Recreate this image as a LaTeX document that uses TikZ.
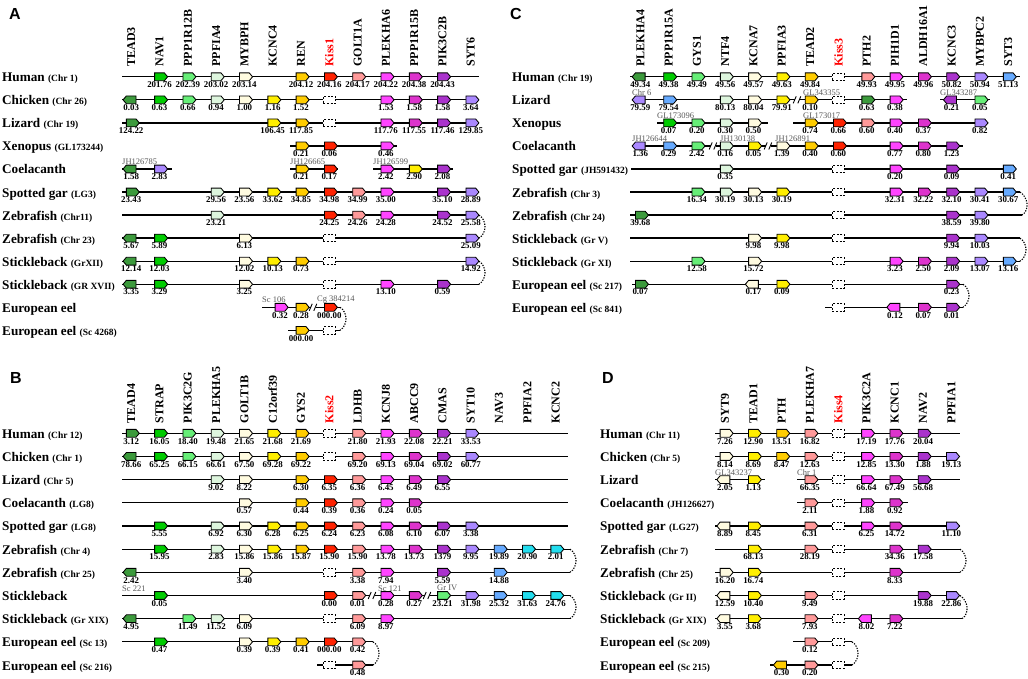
\documentclass[tikz,border=0pt]{standalone}
\usepackage{fontspec}
\setmainfont{Liberation Serif}
\newfontfamily\panelfont{Liberation Sans}
\usetikzlibrary{shapes.symbols}
\definecolor{cDG}{HTML}{3C9A3C}
\definecolor{cG}{HTML}{00CC00}
\definecolor{cLG}{HTML}{66EE77}
\definecolor{cPG}{HTML}{DDF5DD}
\definecolor{cCR}{HTML}{FFFBE0}
\definecolor{cY}{HTML}{FFEE00}
\definecolor{cGo}{HTML}{FFCC00}
\definecolor{cR}{HTML}{FF2200}
\definecolor{cSa}{HTML}{FF9999}
\definecolor{cM}{HTML}{FF44FF}
\definecolor{cDM}{HTML}{DD33CC}
\definecolor{cPu}{HTML}{AA33CC}
\definecolor{cLa}{HTML}{AA88FF}
\definecolor{cBl}{HTML}{66AAFF}
\definecolor{cCy}{HTML}{22DDEE}
\newcommand\GN[5]{%
  \node[gene,g#4,fill=#3] (\panN-#1-#2) at ({\colX+28.3*(#2)},{\rowY+\rowD*(#1)}) {};
  \node[num] (\panN-#1-#2-n) at ({\colX+28.3*(#2)},{\rowY+\rowD*(#1)+10.7}) {#5};}
\newcommand\GNX[6]{%
  \node[gene,g#5,fill=#4] (\panN-#1) at (#2,{\rowY+\rowD*(#3)}) {};
  \node[num] (\panN-#1-n) at (#2,{\rowY+\rowD*(#3)+10.7}) {#6};}
\newcommand\MS[2]{\node[miss] (\panN-#1-#2) at ({\colX+28.3*(#2)},{\rowY+\rowD*(#1)}) {};}
\newcommand\CL[4]{%
  \coordinate (\panN-#1-#2s) at (#3,{\rowY+\rowD*(#1)});
  \coordinate (\panN-#1-#2e) at (#4,{\rowY+\rowD*(#1)});
  \draw[chrom] (\panN-#1-#2s) -- (\panN-#1-#2e);}
\newcommand\BKT[2]{\draw[bkt] (\panN-#1e) .. controls +(8,5) and +(8,-5) .. (\panN-#2e);}
\newcommand\BRK[2]{%
  \fill[white] ({#1-2.5},{\rowY+\rowD*(#2)-1.5}) rectangle ({#1+2.5},{\rowY+\rowD*(#2)+1.5});
  \draw[line width=0.9pt] ({#1-3.8},{\rowY+\rowD*(#2)+3.5}) -- ({#1-0.8},{\rowY+\rowD*(#2)-3.5})
     ({#1+0.8},{\rowY+\rowD*(#2)+3.5}) -- ({#1+3.8},{\rowY+\rowD*(#2)-3.5});}
\newcommand\SCF[4]{\node[scaf] (\panN-#1) at (#2,{\rowY+\rowD*(#3)-4.2}) {#4};}
\newcommand\RLB[4]{\node[rowlab] (\panN-#1-lab) at (#2,{\rowY+\rowD*(#1)+5}) {#3 {\fontsize{9.5}{9.5}\selectfont #4}};}
\newcommand\HDR[3][]{\node[hdr,#1] (\panN-h#2) at ({\colX+28.3*(#2)},{\rowY-10}) {#3};}
\begin{document}
\begin{tikzpicture}[x=1pt,y=-1pt,
  gene/.style={signal, draw, line width=0.85pt, minimum width=13pt, minimum height=7.8pt, inner sep=0pt, signal pointer angle=100},
  gr/.style={signal to=east}, gl/.style={signal to=west},
  miss/.style={draw, dash pattern=on 2pt off 1.6pt, line width=1pt, fill=white, minimum width=12pt, minimum height=7.5pt, inner sep=0pt},
  num/.style={font=\bfseries\fontsize{8.9}{8.9}\selectfont, anchor=base, inner sep=0pt},
  chrom/.style={line width=1.3pt},
  bkt/.style={line width=1.1pt, dash pattern=on 1.3pt off 1.3pt},
  hdr/.style={font=\bfseries\fontsize{12}{12}\selectfont, rotate=90, anchor=west, inner sep=0pt},
  rowlab/.style={font=\bfseries\fontsize{13.2}{13.2}\selectfont, anchor=base west, inner sep=0pt},
  scaf/.style={font=\fontsize{8.5}{8.5}\selectfont, text=black!65, anchor=south west, inner sep=0pt},
  plet/.style={font=\panelfont\bfseries\fontsize{16}{16}\selectfont, inner sep=0pt}]
\useasboundingbox (0,0) rectangle (1028,679);
\fill[white] (0,0) rectangle (1028,679);
% ================= PANEL A =================
\def\panN{A}\def\colX{131.2}\def\rowY{76.8}\def\rowD{23.05}
\node[plet] (A-letter) at (15,13.5) {A};
\HDR{0}{TEAD3}\HDR{1}{NAV1}\HDR{2}{PPP1R12B}\HDR{3}{PPFIA4}\HDR{4}{MYBPH}\HDR{5}{KCNC4}\HDR{6}{REN}
\HDR[text=red]{7}{Kiss1}\HDR{8}{GOLT1A}\HDR{9}{PLEKHA6}\HDR{10}{PPP1R15B}\HDR{11}{PIK3C2B}\HDR{12}{SYT6}
\RLB{0}{2}{Human}{(Chr 1)}\CL{0}{a}{122}{479}
\GN{0}{1}{cG}{r}{201.76}\GN{0}{2}{cLG}{r}{202.39}\GN{0}{3}{cPG}{r}{203.02}\GN{0}{4}{cCR}{r}{203.14}
\GN{0}{6}{cGo}{r}{204.12}\GN{0}{7}{cR}{r}{204.16}\GN{0}{8}{cSa}{r}{204.17}\GN{0}{9}{cM}{r}{204.22}\GN{0}{10}{cDM}{r}{204.38}\GN{0}{11}{cPu}{r}{204.43}
\RLB{1}{2}{Chicken}{(Chr 26)}\CL{1}{a}{122}{479}
\GN{1}{0}{cDG}{l}{0.03}\GN{1}{1}{cG}{r}{0.63}\GN{1}{2}{cLG}{r}{0.66}\GN{1}{3}{cPG}{r}{0.94}\GN{1}{4}{cCR}{r}{1.00}\GN{1}{5}{cY}{r}{1.16}\GN{1}{6}{cGo}{r}{1.52}\MS{1}{7}
\GN{1}{9}{cM}{r}{1.53}\GN{1}{10}{cDM}{r}{1.58}\GN{1}{11}{cPu}{r}{1.58}\GN{1}{12}{cLa}{r}{3.64}
\RLB{2}{2}{Lizard}{(Chr 19)}\CL{2}{a}{122}{479}
\GN{2}{0}{cDG}{r}{124.22}\GN{2}{5}{cY}{r}{106.45}\GN{2}{6}{cGo}{r}{117.85}\MS{2}{7}
\GN{2}{9}{cM}{r}{117.76}\GN{2}{10}{cDM}{r}{117.55}\GN{2}{11}{cPu}{r}{117.46}\GN{2}{12}{cLa}{r}{129.85}
\RLB{3}{2}{Xenopus}{(GL173244)}\CL{3}{a}{290}{397}
\GN{3}{6}{cGo}{r}{0.21}\GN{3}{7}{cR}{r}{0.06}\GN{3}{9}{cM}{r}{0.46}
\RLB{4}{2}{Coelacanth}{}\CL{4}{a}{122}{172}\CL{4}{b}{290}{338}\CL{4}{c}{373}{453}
\SCF{4-sa}{122}{4}{JH126785}\SCF{4-sb}{290}{4}{JH126665}\SCF{4-sc}{373}{4}{JH126599}
\GN{4}{0}{cDG}{l}{1.58}\GN{4}{1}{cLa}{r}{2.83}\GN{4}{6}{cGo}{r}{0.21}\GN{4}{7}{cR}{r}{0.17}
\GN{4}{9}{cM}{r}{2.42}\GN{4}{10}{cY}{r}{2.90}\GN{4}{11}{cPu}{r}{2.08}
\RLB{5}{2}{Spotted gar}{(LG3)}\CL{5}{a}{122}{479}
\GN{5}{0}{cDG}{r}{23.43}\GN{5}{3}{cPG}{r}{29.56}\GN{5}{4}{cCR}{r}{23.56}\GN{5}{5}{cY}{r}{33.62}\GN{5}{6}{cGo}{r}{34.85}
\GN{5}{7}{cR}{r}{34.98}\GN{5}{8}{cSa}{r}{34.99}\GN{5}{9}{cM}{r}{35.00}\GN{5}{11}{cPu}{r}{35.10}\GN{5}{12}{cLa}{r}{28.89}
\RLB{6}{2}{Zebrafish}{(Chr11)}\CL{6}{a}{122}{479}
\GN{6}{3}{cPG}{r}{23.21}\GN{6}{7}{cR}{r}{24.25}\GN{6}{8}{cSa}{r}{24.26}\GN{6}{9}{cM}{r}{24.28}\GN{6}{11}{cPu}{r}{24.52}\GN{6}{12}{cLa}{r}{25.58}
\RLB{7}{2}{Zebrafish}{(Chr 23)}\CL{7}{a}{122}{479}
\GN{7}{0}{cDG}{l}{5.67}\GN{7}{1}{cG}{r}{5.89}\GN{7}{4}{cCR}{r}{6.13}\MS{7}{7}\GN{7}{12}{cLa}{r}{25.09}
\RLB{8}{2}{Stickleback}{(GrXII)}\CL{8}{a}{122}{479}
\GN{8}{0}{cDG}{l}{12.14}\GN{8}{1}{cG}{r}{12.03}\GN{8}{4}{cCR}{r}{12.02}\GN{8}{5}{cY}{r}{10.13}\GN{8}{6}{cGo}{r}{0.73}\MS{8}{7}\GN{8}{12}{cLa}{r}{14.92}
\RLB{9}{2}{Stickleback}{(GR XVII)}\CL{9}{a}{122}{479}
\GN{9}{0}{cDG}{l}{3.35}\GN{9}{1}{cG}{r}{3.29}\GN{9}{4}{cCR}{r}{3.25}\MS{9}{7}\GN{9}{9}{cM}{r}{13.10}\GN{9}{11}{cPu}{r}{0.59}
\RLB{10}{2}{European eel}{}\CL{10}{a}{262}{340}
\BRK{313}{10}
\SCF{10-sa}{262}{10}{Sc 106}\SCF{10-sb}{317}{10}{Cg 384214}
\GNX{10-m}{280}{10}{cM}{r}{0.32}\GN{10}{6}{cGo}{r}{0.28}\GN{10}{7}{cR}{r}{000.00}
\RLB{11}{2}{European eel}{(Sc 4268)}\CL{11}{a}{288}{340}
\GN{11}{6}{cGo}{r}{000.00}\MS{11}{7}
\BKT{6-a}{7-a}\BKT{8-a}{9-a}\BKT{10-a}{11-a}
% ================= PANEL C =================
\def\panN{C}\def\colX{640.3}\def\rowY{76.8}\def\rowD{23.05}
\node[plet] (C-letter) at (516,13.5) {C};
\HDR{0}{PLEKHA4}\HDR{1}{PPP1R15A}\HDR{2}{GYS1}\HDR{3}{NTF4}\HDR{4}{KCNA7}\HDR{5}{PPFIA3}\HDR{6}{TEAD2}
\HDR[text=red]{7}{Kiss3}\HDR{8}{PTH2}\HDR{9}{PIH1D1}\HDR{10}{ALDH16A1}\HDR{11}{KCNC3}\HDR{12}{MYBPC2}\HDR{13}{SYT3}
\RLB{0}{512}{Human}{(Chr 19)}\CL{0}{a}{630}{1020}
\GN{0}{0}{cDG}{l}{49.34}\GN{0}{1}{cG}{r}{49.38}\GN{0}{2}{cLG}{r}{49.49}\GN{0}{3}{cPG}{r}{49.56}\GN{0}{4}{cCR}{r}{49.57}
\GN{0}{5}{cY}{r}{49.63}\GN{0}{6}{cGo}{r}{49.84}\MS{0}{7}\GN{0}{8}{cSa}{r}{49.93}\GN{0}{9}{cM}{r}{49.95}
\GN{0}{10}{cDM}{r}{49.96}\GN{0}{11}{cPu}{r}{50.82}\GN{0}{12}{cLa}{r}{50.94}\GN{0}{13}{cBl}{r}{51.13}
\RLB{1}{512}{Lizard}{}\CL{1}{a}{632}{907}\CL{1}{b}{940}{990}
\BRK{797}{1}
\SCF{1-sa}{632}{1}{Chr 6}\SCF{1-sb}{803}{1}{GL343355}\SCF{1-sc}{940}{1}{GL343287}
\GN{1}{0}{cLa}{l}{79.59}\GN{1}{1}{cBl}{r}{79.54}\GN{1}{3}{cPG}{r}{80.13}\GN{1}{4}{cCR}{r}{80.04}\GN{1}{5}{cY}{r}{79.91}
\GN{1}{6}{cGo}{r}{0.10}\MS{1}{7}\GN{1}{8}{cDG}{r}{0.63}\GN{1}{9}{cM}{r}{0.38}\GN{1}{11}{cPu}{l}{0.21}\GN{1}{12}{cLG}{r}{0.05}
\RLB{2}{512}{Xenopus}{}\CL{2}{a}{657}{768}\CL{2}{b}{793}{988}
\SCF{2-sa}{657}{2}{GL173096}\SCF{2-sb}{803}{2}{GL173017}
\GN{2}{1}{cG}{r}{0.07}\GN{2}{2}{cLG}{r}{0.20}\GN{2}{3}{cPG}{r}{0.30}\GN{2}{4}{cCR}{r}{0.50}
\GN{2}{6}{cGo}{r}{0.74}\GN{2}{7}{cR}{r}{0.66}\GN{2}{8}{cSa}{r}{0.60}\GN{2}{9}{cM}{r}{0.40}\GN{2}{10}{cDM}{r}{0.37}\GN{2}{12}{cLa}{r}{0.82}
\RLB{3}{512}{Coelacanth}{}\CL{3}{a}{632}{963}
\BRK{713}{3}\BRK{768}{3}
\SCF{3-sa}{632}{3}{JH126644}\SCF{3-sb}{720}{3}{JH130138}\SCF{3-sc}{775}{3}{JH126891}
\GN{3}{0}{cLa}{l}{1.36}\GN{3}{1}{cBl}{r}{0.29}\GN{3}{2}{cLG}{r}{2.42}\GN{3}{3}{cPG}{r}{0.16}\GN{3}{4}{cY}{r}{0.05}
\GN{3}{5}{cCR}{r}{1.39}\GN{3}{6}{cGo}{r}{0.40}\GN{3}{7}{cR}{r}{0.60}\GN{3}{9}{cM}{r}{0.77}\GN{3}{10}{cDM}{r}{0.80}\GN{3}{11}{cPu}{r}{1.23}
\RLB{4}{512}{Spotted gar}{(JH591432)}\CL{4}{a}{631}{1015}
\GN{4}{3}{cPG}{r}{0.35}\MS{4}{7}\GN{4}{9}{cM}{r}{0.20}\GN{4}{11}{cPu}{r}{0.09}\GN{4}{13}{cBl}{r}{0.41}
\RLB{5}{512}{Zebrafish}{(Chr 3)}\CL{5}{a}{630}{1020}
\GN{5}{2}{cLG}{r}{16.34}\GN{5}{3}{cPG}{r}{30.19}\GN{5}{4}{cCR}{r}{30.13}\GN{5}{5}{cY}{r}{30.19}\MS{5}{7}
\GN{5}{9}{cM}{r}{32.31}\GN{5}{10}{cDM}{r}{32.22}\GN{5}{11}{cPu}{r}{32.10}\GN{5}{12}{cLa}{r}{30.41}\GN{5}{13}{cBl}{r}{30.67}
\RLB{6}{512}{Zebrafish}{(Chr 24)}\CL{6}{a}{630}{1022}
\GN{6}{0}{cDG}{r}{39.68}\MS{6}{7}\GN{6}{11}{cPu}{r}{38.59}\GN{6}{12}{cLa}{r}{39.80}
\RLB{7}{512}{Stickleback}{(Gr V)}\CL{7}{a}{630}{1020}
\GN{7}{4}{cCR}{r}{9.98}\GN{7}{5}{cY}{r}{9.98}\MS{7}{7}\GN{7}{11}{cPu}{r}{9.94}\GN{7}{12}{cLa}{r}{10.03}
\RLB{8}{512}{Stickleback}{(Gr XI)}\CL{8}{a}{630}{1020}
\GN{8}{2}{cLG}{r}{12.58}\GN{8}{4}{cCR}{r}{15.72}\MS{8}{7}\GN{8}{9}{cM}{r}{3.23}\GN{8}{10}{cDM}{r}{2.50}
\GN{8}{11}{cPu}{r}{2.09}\GN{8}{12}{cLa}{r}{13.07}\GN{8}{13}{cBl}{r}{13.16}
\RLB{9}{512}{European eel}{(Sc 217)}\CL{9}{a}{632}{963}
\GN{9}{0}{cDG}{r}{0.07}\GN{9}{4}{cCR}{l}{0.17}\GN{9}{5}{cY}{r}{0.09}\MS{9}{7}\GN{9}{11}{cPu}{r}{0.23}
\RLB{10}{512}{European eel}{(Sc 841)}\CL{10}{a}{825}{963}
\MS{10}{7}\GN{10}{9}{cM}{l}{0.12}\GN{10}{10}{cDM}{r}{0.07}\GN{10}{11}{cPu}{r}{0.01}
\BKT{5-a}{6-a}\BKT{7-a}{8-a}\BKT{9-a}{10-a}
% ================= PANEL B =================
\def\panN{B}\def\colX{131.2}\def\rowY{433.3}\def\rowD{23.17}
\node[plet] (B-letter) at (16,378) {B};
\HDR{0}{TEAD4}\HDR{1}{STRAP}\HDR{2}{PIK3C2G}\HDR{3}{PLEKHA5}\HDR{4}{GOLT1B}\HDR{5}{C12orf39}\HDR{6}{GYS2}
\HDR[text=red]{7}{Kiss2}\HDR{8}{LDHB}\HDR{9}{KCNJ8}\HDR{10}{ABCC9}\HDR{11}{CMAS}\HDR{12}{SYT10}\HDR{13}{NAV3}\HDR{14}{PPFIA2}\HDR{15}{KCNC2}
\RLB{0}{2}{Human}{(Chr 12)}\CL{0}{a}{122}{568}
\GN{0}{0}{cDG}{r}{3.12}\GN{0}{1}{cG}{r}{16.05}\GN{0}{2}{cLG}{r}{18.40}\GN{0}{3}{cPG}{r}{19.48}\GN{0}{4}{cCR}{r}{21.65}\GN{0}{5}{cY}{r}{21.68}\GN{0}{6}{cGo}{r}{21.69}\MS{0}{7}
\GN{0}{8}{cSa}{r}{21.80}\GN{0}{9}{cM}{r}{21.93}\GN{0}{10}{cDM}{r}{22.08}\GN{0}{11}{cPu}{r}{22.21}\GN{0}{12}{cLa}{r}{33.53}
\RLB{1}{2}{Chicken}{(Chr 1)}\CL{1}{a}{122}{568}
\GN{1}{0}{cDG}{l}{78.66}\GN{1}{1}{cG}{r}{65.25}\GN{1}{2}{cLG}{r}{66.15}\GN{1}{3}{cPG}{r}{66.61}\GN{1}{4}{cCR}{r}{67.50}\GN{1}{5}{cY}{r}{69.28}\GN{1}{6}{cGo}{r}{69.22}\MS{1}{7}
\GN{1}{8}{cSa}{r}{69.20}\GN{1}{9}{cM}{r}{69.13}\GN{1}{10}{cDM}{r}{69.04}\GN{1}{11}{cPu}{r}{69.02}\GN{1}{12}{cLa}{r}{60.77}
\RLB{2}{2}{Lizard}{(Chr 5)}\CL{2}{a}{122}{568}
\GN{2}{3}{cPG}{r}{9.02}\GN{2}{4}{cCR}{r}{8.22}\GN{2}{6}{cGo}{r}{6.30}\GN{2}{7}{cR}{r}{6.35}\GN{2}{8}{cSa}{r}{6.36}\GN{2}{9}{cM}{r}{6.45}\GN{2}{10}{cDM}{r}{6.49}\GN{2}{11}{cPu}{r}{6.55}
\RLB{3}{2}{Coelacanth}{(LG8)}\CL{3}{a}{122}{568}
\GN{3}{4}{cCR}{r}{0.57}\GN{3}{6}{cGo}{r}{0.44}\GN{3}{7}{cR}{r}{0.39}\GN{3}{8}{cSa}{r}{0.36}\GN{3}{9}{cM}{r}{0.24}\GN{3}{10}{cDM}{r}{0.05}
\RLB{4}{2}{Spotted gar}{(LG8)}\CL{4}{a}{122}{568}
\GN{4}{1}{cG}{r}{5.55}\GN{4}{3}{cPG}{r}{6.92}\GN{4}{4}{cCR}{r}{6.30}\GN{4}{5}{cY}{r}{6.28}\GN{4}{6}{cGo}{r}{6.25}\GN{4}{7}{cR}{r}{6.24}
\GN{4}{8}{cSa}{r}{6.23}\GN{4}{9}{cM}{r}{6.08}\GN{4}{10}{cDM}{r}{6.10}\GN{4}{11}{cPu}{r}{6.07}\GN{4}{12}{cLa}{r}{3.38}
\RLB{5}{2}{Zebrafish}{(Chr 4)}\CL{5}{a}{122}{570}
\GN{5}{1}{cG}{r}{15.95}\GN{5}{3}{cPG}{r}{2.83}\GN{5}{4}{cCR}{r}{15.86}\GN{5}{5}{cY}{r}{15.86}\GN{5}{6}{cGo}{r}{15.87}\GN{5}{7}{cR}{r}{15.90}
\GN{5}{8}{cSa}{r}{15.90}\GN{5}{9}{cM}{r}{13.78}\GN{5}{10}{cDM}{r}{13.73}\GN{5}{11}{cPu}{r}{1379}\GN{5}{12}{cLa}{r}{9.95}\GN{5}{13}{cBl}{r}{19.89}\GN{5}{14}{cCy}{r}{20.90}\GN{5}{15}{cCy}{r}{2.01}
\RLB{6}{2}{Zebrafish}{(Chr 25)}\CL{6}{a}{122}{570}
\GN{6}{0}{cDG}{l}{2.42}\GN{6}{4}{cCR}{r}{3.40}\MS{6}{7}\GN{6}{8}{cSa}{r}{3.38}\GN{6}{9}{cM}{r}{7.94}\GN{6}{11}{cPu}{r}{5.59}\GN{6}{13}{cBl}{r}{14.88}
\RLB{7}{2}{Stickleback}{}\CL{7}{a}{122}{570}
\BRK{372}{7}\BRK{427}{7}
\SCF{7-sa}{122}{7}{Sc 221}\SCF{7-sb}{378}{7}{Sc 121}\SCF{7-sc}{437}{7}{Gr IV}
\GN{7}{1}{cG}{r}{0.05}\GN{7}{7}{cR}{r}{0.00}\GN{7}{8}{cSa}{r}{0.01}\GN{7}{9}{cM}{r}{0.28}\GN{7}{10}{cDM}{r}{0.27}
\GN{7}{11}{cLG}{r}{23.21}\GN{7}{12}{cLa}{r}{31.98}\GN{7}{13}{cBl}{r}{25.32}\GN{7}{14}{cCy}{r}{31.63}\GN{7}{15}{cCy}{r}{24.76}
\RLB{8}{2}{Stickleback}{(Gr XIX)}\CL{8}{a}{122}{570}
\GN{8}{0}{cDG}{l}{4.95}\GN{8}{2}{cLG}{r}{11.49}\GN{8}{3}{cPG}{r}{11.52}\GN{8}{4}{cCR}{r}{6.09}\MS{8}{7}\GN{8}{8}{cSa}{r}{6.09}\GN{8}{9}{cM}{r}{8.97}
\RLB{9}{2}{European eel}{(Sc 13)}\CL{9}{a}{122}{373}
\GN{9}{1}{cG}{r}{0.47}\GN{9}{4}{cCR}{r}{0.39}\GN{9}{5}{cY}{r}{0.39}\GN{9}{6}{cGo}{r}{0.41}\GN{9}{7}{cR}{r}{000.00}\GN{9}{8}{cSa}{r}{0.42}
\RLB{10}{2}{European eel}{(Sc 216)}\CL{10}{a}{317}{373}
\MS{10}{7}\GN{10}{8}{cSa}{r}{0.48}
\BKT{5-a}{6-a}\BKT{7-a}{8-a}\BKT{9-a}{10-a}
% ================= PANEL D =================
\def\panN{D}\def\colX{725}\def\rowY{433.3}\def\rowD{23.17}
\node[plet] (D-letter) at (608,378) {D};
\HDR{0}{SYT9}\HDR{1}{TEAD1}\HDR{2}{PTH}\HDR{3}{PLEKHA7}\HDR[text=red]{4}{Kiss4}\HDR{5}{PIK3C2A}\HDR{6}{KCNC1}\HDR{7}{NAV2}\HDR{8}{PPFIA1}
\RLB{0}{600}{Human}{(Chr 11)}\CL{0}{a}{715}{960}
\GN{0}{0}{cCR}{r}{7.26}\GN{0}{1}{cY}{r}{12.90}\GN{0}{2}{cGo}{r}{13.51}\GN{0}{3}{cSa}{r}{16.82}\MS{0}{4}\GN{0}{5}{cM}{r}{17.19}\GN{0}{6}{cDM}{r}{17.76}\GN{0}{7}{cPu}{r}{20.04}
\RLB{1}{600}{Chicken}{(Chr 5)}\CL{1}{a}{715}{960}
\GN{1}{0}{cCR}{r}{8.14}\GN{1}{1}{cY}{r}{8.69}\GN{1}{2}{cGo}{r}{8.47}\GN{1}{3}{cSa}{r}{12.63}\MS{1}{4}\GN{1}{5}{cM}{r}{12.85}\GN{1}{6}{cDM}{r}{13.30}\GN{1}{7}{cPu}{r}{1.88}\GN{1}{8}{cLa}{r}{19.13}
\RLB{2}{600}{Lizard}{}\CL{2}{a}{715}{765}\CL{2}{b}{797}{960}
\SCF{2-sa}{715}{2}{GL343237}\SCF{2-sb}{797}{2}{Chr 1}
\GN{2}{0}{cCR}{l}{2.05}\GN{2}{1}{cY}{r}{1.13}\GN{2}{3}{cSa}{r}{66.35}\MS{2}{4}\GN{2}{5}{cM}{r}{66.64}\GN{2}{6}{cDM}{r}{67.49}\GN{2}{7}{cPu}{r}{56.68}
\RLB{3}{600}{Coelacanth}{(JH126627)}\CL{3}{a}{797}{908}
\GN{3}{3}{cSa}{r}{2.11}\MS{3}{4}\GN{3}{5}{cM}{r}{1.88}\GN{3}{6}{cDM}{r}{0.92}
\RLB{4}{600}{Spotted gar}{(LG27)}\CL{4}{a}{715}{960}
\GN{4}{0}{cCR}{l}{8.89}\GN{4}{1}{cY}{r}{8.45}\GN{4}{3}{cSa}{r}{6.31}\MS{4}{4}\GN{4}{5}{cM}{r}{6.25}\GN{4}{6}{cDM}{r}{14.72}\GN{4}{8}{cLa}{r}{11.10}
\RLB{5}{600}{Zebrafish}{(Chr 7)}\CL{5}{a}{715}{960}
\GN{5}{1}{cY}{r}{68.13}\GN{5}{3}{cSa}{r}{28.19}\MS{5}{4}\GN{5}{6}{cDM}{r}{34.36}\GN{5}{7}{cPu}{r}{17.58}
\RLB{6}{600}{Zebrafish}{(Chr 25)}\CL{6}{a}{715}{960}
\GN{6}{0}{cCR}{r}{16.20}\GN{6}{1}{cY}{r}{16.74}\MS{6}{4}\GN{6}{6}{cDM}{r}{8.33}
\RLB{7}{600}{Stickleback}{(Gr II)}\CL{7}{a}{715}{960}
\GN{7}{0}{cCR}{l}{12.59}\GN{7}{1}{cY}{r}{10.40}\GN{7}{3}{cSa}{r}{9.49}\MS{7}{4}\GN{7}{7}{cPu}{r}{19.88}\GN{7}{8}{cLa}{r}{22.86}
\RLB{8}{600}{Stickleback}{(Gr XIX)}\CL{8}{a}{715}{962}
\GN{8}{0}{cCR}{l}{3.55}\GN{8}{1}{cY}{r}{3.68}\GN{8}{3}{cSa}{r}{7.93}\MS{8}{4}\GN{8}{5}{cM}{l}{8.02}\GN{8}{6}{cDM}{r}{7.22}
\RLB{9}{600}{European eel}{(Sc 209)}\CL{9}{a}{793}{852}
\GN{9}{3}{cSa}{r}{0.12}\MS{9}{4}
\RLB{10}{600}{European eel}{(Sc 215)}\CL{10}{a}{770}{852}
\GN{10}{2}{cGo}{l}{0.30}\GN{10}{3}{cSa}{r}{0.20}\MS{10}{4}
\BKT{5-a}{6-a}\BKT{7-a}{8-a}\BKT{9-a}{10-a}
\end{tikzpicture}
\end{document}
